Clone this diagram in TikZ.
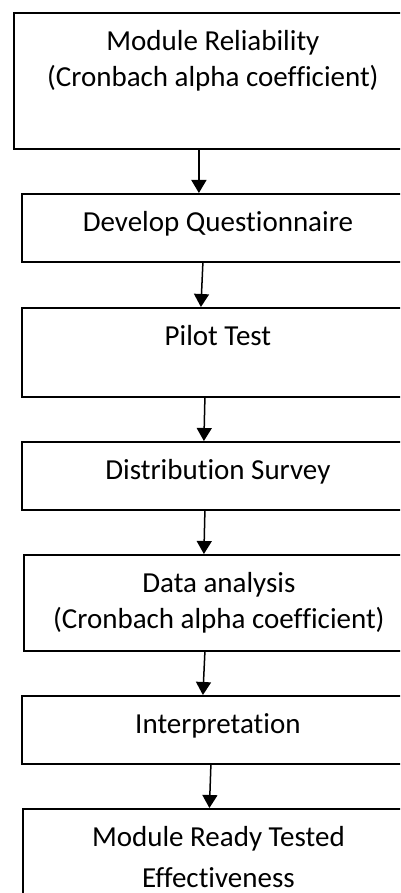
\documentclass[tikz,border=0pt]{standalone}
\usepackage{fontspec}
\setmainfont{Carlito}[Ligatures=NoCommon]
\usepackage{tikz}
\usetikzlibrary{positioning}
\usetikzlibrary{arrows.meta}

\tikzset{
  stage/.style={draw, line width=1.8pt, rectangle, anchor=north west, inner sep=0pt, minimum width=#1},
  stage/.default=392,
  caption/.style={inner sep=0pt, align=center, font=\fontsize{29}{36}\selectfont},
  flow/.style={line width=1.5pt, -{Triangle[width=15pt,length=13pt]}}
}

\begin{document}
\begin{tikzpicture}[x=1pt, y=1pt]

\useasboundingbox (0,0) rectangle (400,-893);
\clip (0,0) rectangle (400,-893);

% boxes
\node[stage=398, minimum height=136] (reliab) at (13,-12) {};
\node[stage, minimum height=68] (develop) at (21,-193) {};
\node[stage, minimum height=89] (pilot) at (21,-307) {};
\node[stage, minimum height=68] (survey) at (21,-441) {};
\node[stage=390, minimum height=96] (analysis) at (23,-554) {};
\node[stage, minimum height=68] (interp) at (21,-695) {};
\node[stage=391, minimum height=96] (ready) at (22,-808) {};

% texts
\node[caption, below=18 of reliab.north] {Module Reliability\\(Cronbach alpha coefficient)};
\node[caption, below=18 of develop.north] {Develop Questionnaire};
\node[caption, below=18 of pilot.north] {Pilot Test};
\node[caption, below=18 of survey.north] {Distribution Survey};
\node[caption, below=18 of analysis.north] {Data analysis\\(Cronbach alpha coefficient)};
\node[caption, below=18 of interp.north] {Interpretation};
\node[caption, below=18 of ready.north] {Module Ready Tested\\[5pt]Effectiveness};

% arrows
\draw[flow] ([xshift=-14]reliab.south) -- ([xshift=-19]develop.north);
\draw[flow] ([xshift=-15]develop.south) -- ([xshift=-17]pilot.north);
\draw[flow] ([xshift=-13]pilot.south) -- ([xshift=-14]survey.north);
\draw[flow] ([xshift=-13]survey.south) -- ([xshift=-15]analysis.north);
\draw[flow] ([xshift=-14]analysis.south) -- ([xshift=-15]interp.north);
\draw[flow] ([xshift=-7]interp.south) -- ([xshift=-9]ready.north);

\end{tikzpicture}
\end{document}
